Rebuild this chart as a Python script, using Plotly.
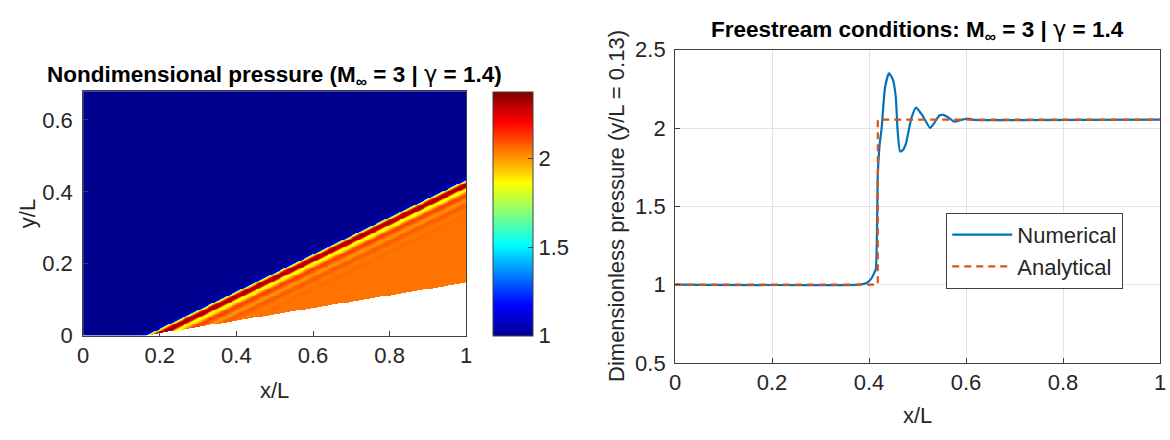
import numpy as np
import plotly.graph_objects as go

# Pressure sampled along the probe line y/L = 0.13 (numerical solution)
probe_y = 0.13
num_x = [0.0, 0.38, 0.395, 0.405, 0.41, 0.414, 0.418, 0.422, 0.426, 0.433,
         0.441, 0.449, 0.455, 0.459, 0.464, 0.470, 0.476, 0.487, 0.497, 0.51,
         0.526, 0.534, 0.545, 0.553, 0.564, 0.576, 0.588, 0.603, 0.618, 0.649, 1.0]
num_p = [1.0, 1.0, 1.01, 1.04, 1.07, 1.1, 1.7, 1.9, 2.0, 2.26,
         2.35, 2.31, 2.2, 1.98, 1.85, 1.86, 1.9, 2.06, 2.13, 2.08,
         2.0, 2.03, 2.08, 2.084, 2.066, 2.04, 2.05, 2.06, 2.052, 2.05, 2.053]

# Oblique-shock (analytical) solution along the same line
ana_x = [0.0, 0.418, 0.418, 1.0]
ana_p = [1.0, 1.0, 2.053, 2.053]

# Wedge geometry and field extent
apex_x = 0.167
wedge_deg = 10.0
domain_h = 0.68
p_min, p_max = 1.0, 2.38

x_ticks = [0, 0.2, 0.4, 0.6, 0.8, 1]
y_ticks_left = [0, 0.2, 0.4, 0.6]
y_ticks_right = [0.5, 1, 1.5, 2, 2.5]
cbar_ticks = [1, 1.5, 2]

# Pressure field: the shock runs straight from the apex through the analytical
# jump on the probe line; behind it each point takes the probe value found at the
# same horizontal distance behind the shock.
shock_x_probe = ana_x[1]
shock_slope = probe_y / (shock_x_probe - apex_x)
gx = np.linspace(0.0, 1.0, 400)
gy = np.linspace(0.0, domain_h, 280)
X, Y = np.meshgrid(gx, gy)
behind = X - (apex_x + Y / shock_slope)
P = np.interp(shock_x_probe + behind, num_x, num_p)
inside = Y < (X - apex_x) * np.tan(np.radians(wedge_deg))
P = np.where(inside, np.nan, P)

jet = [[0.0, "#00008f"], [0.125, "#0000ff"], [0.375, "#00ffff"],
       [0.625, "#ffff00"], [0.875, "#ff0000"], [1.0, "#800000"]]

W, H = 1170, 440
def fx(px):
    return px / W
def fy(py):
    return 1 - py / H

FONT = "Liberation Sans, Arial, Helvetica, sans-serif"
TXT = "#262626"
AX = "#404040"
GAMMA = "<span style=\"font-family:'DejaVu Sans';font-weight:normal\">γ</span>"

fig = go.Figure()
fig.add_trace(go.Heatmap(
    x=gx, y=gy, z=P, colorscale=jet, zmin=p_min, zmax=p_max,
    xaxis="x", yaxis="y", hoverinfo="skip",
    colorbar=dict(
        x=fx(492), xanchor="left", xref="paper", xpad=0, ypad=0,
        y=fy(343), yanchor="bottom", yref="paper",
        len=(343 - 84) / H, lenmode="fraction",
        thickness=40, thicknessmode="pixels",
        outlinewidth=1, outlinecolor=AX,
        tickvals=cbar_ticks, ticks="inside", ticklen=5, tickcolor=AX,
        tickfont=dict(size=22, color=TXT, family=FONT),
    ),
))
fig.add_trace(go.Scatter(
    x=num_x, y=num_p, mode="lines", name="Numerical",
    line=dict(color="#0072BD", width=2.2, shape="spline", smoothing=0.5),
    xaxis="x2", yaxis="y2",
))
fig.add_trace(go.Scatter(
    x=ana_x, y=ana_p, mode="lines", name="Analytical",
    line=dict(color="#D95319", width=2.2, dash="7px,5px"),
    xaxis="x2", yaxis="y2",
))

common = dict(showline=True, mirror=True, linecolor=AX, linewidth=1,
              ticks="inside", ticklen=5, tickcolor=AX, zeroline=False,
              tickfont=dict(size=22, color=TXT, family=FONT))

fig.update_layout(
    width=W, height=H, margin=dict(l=0, r=0, t=0, b=0),
    paper_bgcolor="white", plot_bgcolor="white",
    font=dict(family=FONT, color=TXT),
    xaxis=dict(domain=[fx(78), fx(465)], range=[0, 1], tickvals=x_ticks,
               showgrid=False, anchor="y", ticklabelstandoff=0, **common),
    yaxis=dict(domain=[fy(343), fy(84)], range=[0, domain_h], tickvals=y_ticks_left,
               showgrid=False, anchor="x", ticklabelstandoff=5, **common),
    xaxis2=dict(domain=[fx(676), fx(1166)], range=[0, 1], tickvals=x_ticks,
                showgrid=True, gridcolor="#e3e3e3", anchor="y2", ticklabelstandoff=0, **common),
    yaxis2=dict(domain=[fy(372), fy(40)], range=[0.5, 2.5], tickvals=y_ticks_right,
                showgrid=True, gridcolor="#e3e3e3", anchor="x2", ticklabelstandoff=4, **common),
    showlegend=True,
    legend=dict(x=fx(950), y=fy(213), xanchor="left", yanchor="top",
                bordercolor=AX, borderwidth=1, bgcolor="white",
                font=dict(size=22, color=TXT, family=FONT), itemwidth=60,
                tracegroupgap=0),
)

ann = [
    dict(x=fx(271.5), y=fy(67),
         text=f"<b>Nondimensional pressure (M<sub>∞</sub> = 3 | {GAMMA} = 1.4)</b>",
         font=dict(size=22.5, color="black")),
    dict(x=fx(921), y=fy(20),
         text=f"<b>Freestream conditions: M<sub>∞</sub> = 3 | {GAMMA} = 1.4</b>",
         font=dict(size=22.5, color="black")),
    dict(x=fx(271.5), y=fy(401), text="x/L", font=dict(size=22, color=TXT)),
    dict(x=fx(921), y=fy(428), text="x/L", font=dict(size=22, color=TXT)),
    dict(x=fx(22), y=fy(213.5), text="y/L", textangle=-90, font=dict(size=22, color=TXT)),
    dict(x=fx(617), y=fy(206), text="Dimensionless pressure (y/L = 0.13)", textangle=-90,
         font=dict(size=22, color=TXT)),
]
for a in ann:
    a.update(xref="paper", yref="paper", showarrow=False, xanchor="center", yanchor="middle")
    a["font"]["family"] = FONT
fig.update_layout(annotations=ann)

fig.write_html("out.html")
